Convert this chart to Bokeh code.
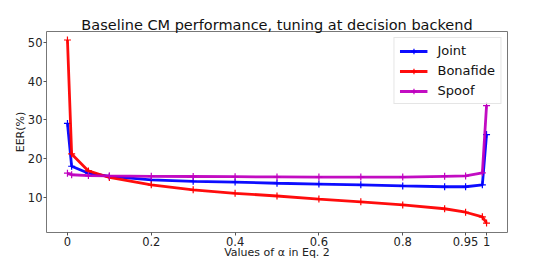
from bokeh.plotting import figure
from bokeh.models import Legend, LegendItem, FixedTicker, Range1d
from bokeh.embed import file_html
from bokeh.resources import INLINE

alpha = [0, 0.01, 0.05, 0.1, 0.2, 0.3, 0.4, 0.5, 0.6, 0.7, 0.8, 0.9, 0.95, 0.99, 1.0]
joint = [29.1, 18.0, 16.2, 15.4, 14.5, 14.1, 13.9, 13.6, 13.4, 13.2, 12.9, 12.7, 12.7, 13.2, 26.2]
bonafide = [50.7, 21.2, 16.8, 15.1, 13.2, 11.9, 11.0, 10.3, 9.5, 8.8, 8.0, 7.0, 6.1, 4.9, 3.3]
spoof = [16.2, 15.8, 15.6, 15.5, 15.4, 15.35, 15.3, 15.25, 15.2, 15.2, 15.2, 15.4, 15.5, 16.3, 33.7]

x_ticks = [0, 0.2, 0.4, 0.6, 0.8, 0.95, 1.0]
x_tick_labels = ["0", "0.2", "0.4", "0.6", "0.8", "0.95", "1"]
y_ticks = [10, 20, 30, 40, 50]

series = [("Joint", joint, "#0000ff"), ("Bonafide", bonafide, "#ff0000"), ("Spoof", spoof, "#bf00bf")]

FONT = "DejaVu Sans"

p = figure(width=538, height=261, output_backend="svg", toolbar_location=None,
           x_range=Range1d(-0.05, 1.05), y_range=Range1d(0.85, 52.9),
           title="Baseline CM performance, tuning at decision backend",
           min_border_left=46, min_border_right=31, min_border_top=31, min_border_bottom=29)

p.title.text_font = FONT
p.title.text_font_size = "14.5px"
p.title.text_font_style = "normal"
p.title.text_color = "#111111"
p.title.align = "center"
p.title.standoff = -2
p.title.offset = 0

items = []
for name, vals, col in series:
    r1 = p.line(alpha, vals, line_color=col, line_width=2.8, line_alpha=0.95)
    r2 = p.scatter(alpha, vals, marker="cross", size=7, line_color=col, line_width=1.2)
    items.append(LegendItem(label=name, renderers=[r1, r2]))

legend = Legend(items=items, location="top_right")
legend.label_text_font = FONT
legend.label_text_font_size = "13px"
legend.label_text_color = "#111111"
legend.glyph_width = 28
legend.glyph_height = 14
legend.spacing = 5
legend.padding = 5
legend.margin = 6
legend.label_standoff = 10
legend.border_line_color = "#cccccc"
legend.border_line_width = 1
legend.background_fill_alpha = 0.8
p.add_layout(legend)

p.grid.visible = False
p.outline_line_color = "#777777"
p.outline_line_width = 1

p.xaxis.ticker = FixedTicker(ticks=x_ticks)
p.xaxis.major_label_overrides = {t: l for t, l in zip(x_ticks, x_tick_labels)}
p.yaxis.ticker = FixedTicker(ticks=y_ticks)

for ax in (p.xaxis, p.yaxis):
    ax.axis_line_color = None
    ax.minor_tick_line_color = None
    ax.major_tick_out = 3
    ax.major_tick_in = 0
    ax.major_tick_line_color = "#555555"
    ax.major_label_text_font = FONT
    ax.major_label_text_font_size = "11.5px"
    ax.major_label_text_color = "#222222"
    ax.axis_label_text_font = FONT
    ax.axis_label_text_font_size = "11px"
    ax.axis_label_text_font_style = "normal"
    ax.axis_label_text_color = "#222222"
    ax.major_label_standoff = 1

p.xaxis.axis_label = "Values of α in Eq. 2"
p.yaxis.axis_label = "EER(%)"
p.xaxis.axis_label_standoff = -3
p.yaxis.axis_label_standoff = -2

open("out.html", "w").write(file_html(p, INLINE))
